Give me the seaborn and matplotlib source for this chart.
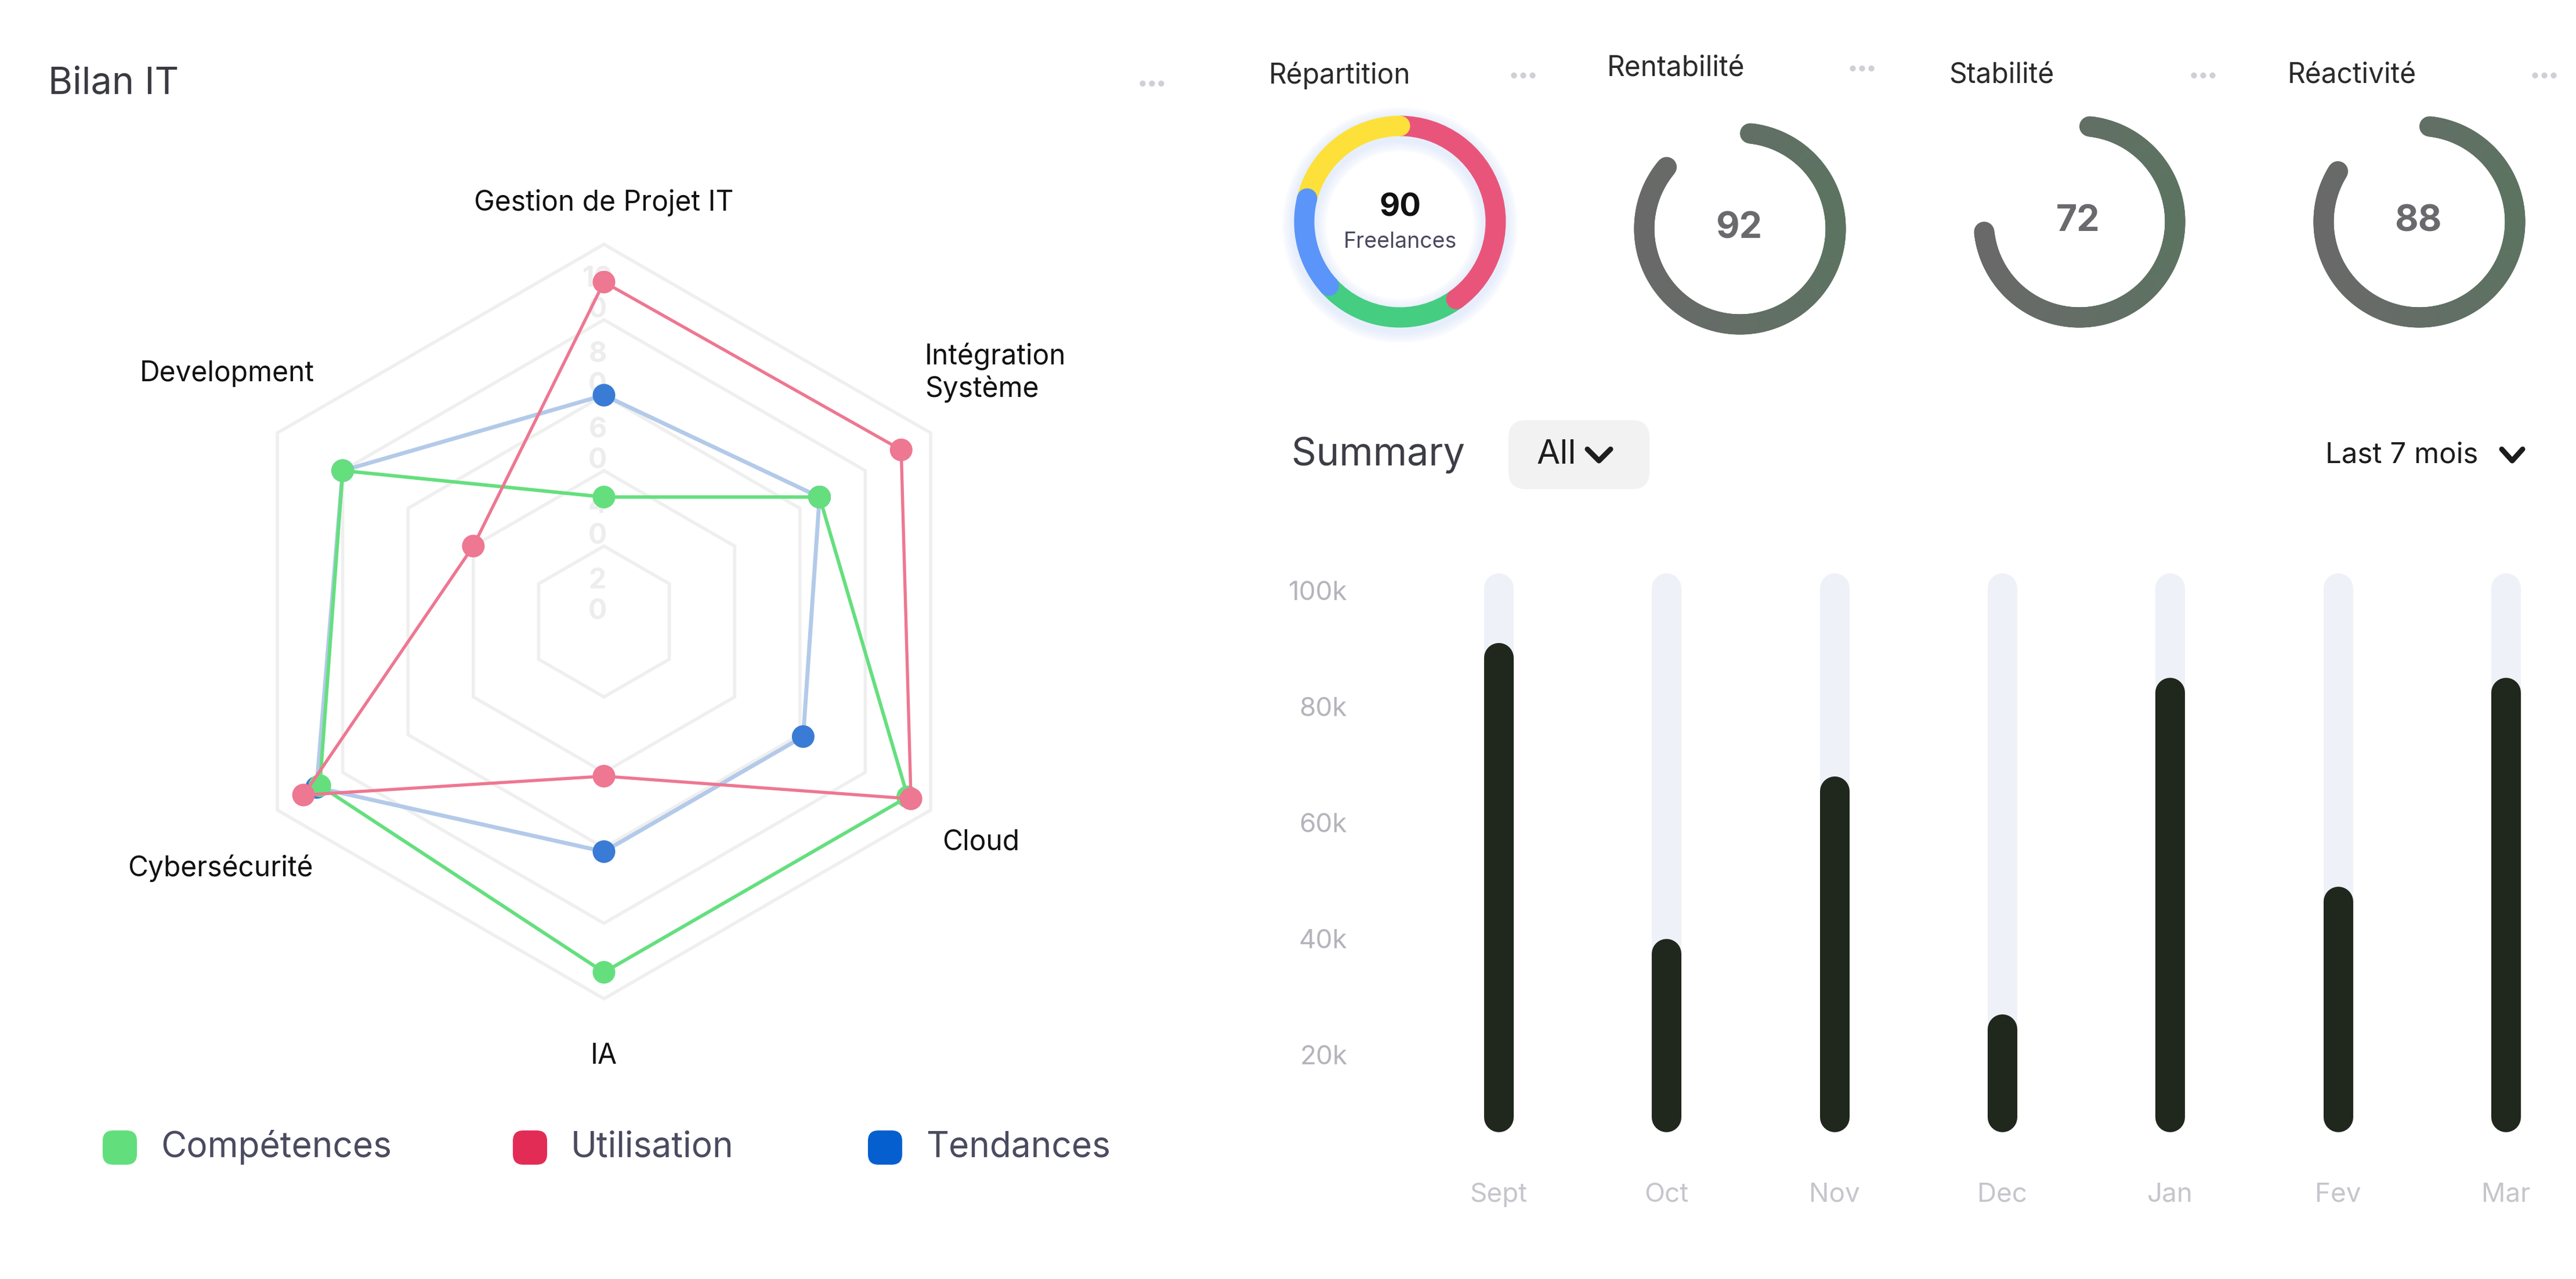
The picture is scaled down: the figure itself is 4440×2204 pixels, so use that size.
import numpy as np
import pandas as pd
import matplotlib
matplotlib.use("Agg")
import matplotlib.pyplot as plt
import seaborn as sns
from matplotlib.patches import FancyBboxPatch, Circle
from matplotlib.collections import LineCollection
from matplotlib.colors import to_rgb

# ---------------- data ----------------
radar_labels = ["Gestion de Projet IT", "Intégration\nSystème", "Cloud", "IA", "Cybersécurité", "Development"]
competences = [33, 66, 93, 93, 87, 80]
utilisation = [90, 91, 94, 41, 92, 40]
tendances = [60, 66, 61, 61, 88, 80]
radar_ticks = [20, 40, 60, 80, 100]
series_names = ["Compétences", "Utilisation", "Tendances"]

repartition = [36, 21, 14, 19]          # rouge, vert, bleu, jaune
repartition_total = 90
gauge_titles = ["Rentabilité", "Stabilité", "Réactivité"]
gauge_values = [92, 72, 88]
gauge_fill = [0.878, 0.75, 0.855]       # part of the ring drawn

months = ["Sept", "Oct", "Nov", "Dec", "Jan", "Fev", "Mar"]
summary = [91000, 40000, 68000, 27000, 85000, 49000, 85000]
summary_max = 100000
y_ticks = [20000, 40000, 60000, 80000, 100000]
y_tick_labels = ["20k", "40k", "60k", "80k", "100k"]

# ---------------- setup ----------------
sns.set_theme(style="white")
plt.rcParams["font.family"] = ["Inter", "DejaVu Sans"]

W, H, DPI = 4440, 2204, 300
PT = 72 / DPI   # points per pixel
fig = plt.figure(figsize=(W / DPI, H / DPI), dpi=DPI)
fig.patch.set_facecolor("white")


def px_axes(x0, y0, x1, y1):
    ax = fig.add_axes([x0 / W, 1 - y1 / H, (x1 - x0) / W, (y1 - y0) / H])
    ax.patch.set_alpha(0)
    return ax


ui = px_axes(0, 0, W, H)
ui.set_xlim(0, W)
ui.set_ylim(H, 0)
ui.axis("off")


def dots(x, y):
    ui.scatter([x + 4.5, x + 20.5, x + 36.5], [y] * 3, s=(9 * PT) ** 2 * 1.3,
               color="#CFCFD5", edgecolors="none", zorder=5)


# ---------------- radar ----------------
ui.text(83, 144, "Bilan IT", fontsize=15.5, color="#3a3a42", va="center", ha="left")
dots(1965, 144)

rad = px_axes(261, 291, 1821, 1851)
rad.set_xlim(-120, 120)
rad.set_ylim(-120, 120)
rad.axis("off")

ang = np.deg2rad(90 - 60 * np.arange(6))
for t in radar_ticks:
    hx = np.append(t * np.cos(ang), t * np.cos(ang[0]))
    hy = np.append(t * np.sin(ang), t * np.sin(ang[0]))
    rad.plot(hx, hy, color="#EFEFEF", lw=5.6 * PT, zorder=1, solid_joinstyle="miter")
    rad.text(-1.7, t - 13.3, f"{t // 10}\n0", fontsize=11.5, fontweight="bold",
             color="#EDEDED", ha="center", va="center", linespacing=1.2, zorder=1)

rows = []
for name, vals in zip(series_names, [competences, utilisation, tendances]):
    for i, (lab, v) in enumerate(zip(radar_labels, vals)):
        rows.append({"series": name, "axis": lab, "order": i, "value": v,
                     "x": v * np.cos(ang[i]), "y": v * np.sin(ang[i])})
radar_df = pd.DataFrame(rows)

styles = {
    "Tendances": dict(line="#B3CAE9", mark="#3A7BD5", lw=7.0, z=2),
    "Compétences": dict(line="#65DF7E", mark="#65DF7E", lw=6.0, z=3),
    "Utilisation": dict(line="#EE7791", mark="#EE7791", lw=5.4, z=4),
}
for name in ["Tendances", "Compétences", "Utilisation"]:
    st = styles[name]
    d = radar_df[radar_df["series"] == name].sort_values("order")
    closed = pd.concat([d, d.iloc[[0]]], ignore_index=True)
    sns.lineplot(data=closed, x="x", y="y", sort=False, estimator=None, color=st["line"],
                 lw=st["lw"] * PT, ax=rad, zorder=st["z"])
    sns.scatterplot(data=d, x="x", y="y", color=st["mark"], s=(39 * PT) ** 2,
                    edgecolor="none", ax=rad, zorder=st["z"] + 0.5, legend=False)
rad.set_xlim(-120, 120)
rad.set_ylim(-120, 120)
rad.axis("off")

label_pos = [(0, 111, "center"), (85.1, 66, "left"), (89.7, -58.6, "left"),
             (0, -115.2, "center"), (-77.1, -65.4, "right"), (-76.8, 65.7, "right")]
for lab, (lx, ly, ha) in zip(radar_labels, label_pos):
    rad.text(lx, ly, lab, fontsize=11.5, color="#111111", ha=ha, va="center", linespacing=1.25)

legend_colors = ["#63DE7C", "#E32C55", "#065FCF"]
legend_x = [177, 884, 1496]
for name, col, lx in zip(series_names, legend_colors, legend_x):
    ui.add_patch(FancyBboxPatch((lx, 1948), 59, 59, boxstyle="round,pad=0,rounding_size=18",
                                fc=col, ec="none"))
    ui.text(lx + 100, 1977, name, fontsize=14.5, color="#4A4A60", va="center", ha="left")

# ---------------- donut ----------------
ui.text(2187, 130, "Répartition", fontsize=11.5, color="#2a2a2a", va="center", ha="left")
dots(2605, 130)
don = px_axes(2413 - 220, 382 - 220, 2413 + 220, 382 + 220)
R, RW = 165, 35
for k in range(1, 6):
    don.add_patch(Circle((0, -6), R, fill=False, lw=(RW + 8 * k) * PT, ec="#D9E4FB",
                         alpha=0.16, zorder=0))
don_colors = ["#E9557A", "#45CD82", "#5B95F9", "#FDE03A"]
don.pie(repartition, colors=don_colors, startangle=90, counterclock=False,
        radius=R + RW / 2, wedgeprops=dict(width=RW, edgecolor="none"))
bounds = 90 - np.cumsum(repartition) / sum(repartition) * 360
caps = [(bounds[0], don_colors[0]), (bounds[1], don_colors[2]),
        (bounds[2], don_colors[2]), (bounds[3], don_colors[3])]
for a, col in caps:
    don.add_patch(Circle((R * np.cos(np.deg2rad(a)), R * np.sin(np.deg2rad(a))), RW / 2,
                         fc=col, ec="none", zorder=5))
don.set_xlim(-220, 220)
don.set_ylim(-220, 220)
don.axis("off")
ui.text(2413, 358, str(repartition_total), fontsize=13, fontweight="bold", color="#111111",
        ha="center", va="center")
ui.text(2413, 417, "Freelances", fontsize=9, color="#4A4A5E", ha="center", va="center")

# ---------------- gauges ----------------
gauge_centers = [(2999, 394), (3584, 382), (4170, 382)]
gauge_title_pos = [(2770, 119), (3359, 130), (3943, 130)]
gauge_dots = [(3189, 118), (3777, 130), (4365, 130)]
c_left, c_right = np.array(to_rgb("#696969")), np.array(to_rgb("#5D7362"))
cap_deg = np.rad2deg(RW / 2 / R)
for title, val, frac, (cx, cy), (tx, ty), (dx, dy) in zip(
        gauge_titles, gauge_values, gauge_fill, gauge_centers, gauge_title_pos, gauge_dots):
    ui.text(tx, ty, title, fontsize=11.5, color="#2a2a2a", va="center", ha="left")
    dots(dx, dy)
    g = px_axes(cx - 220, cy - 220, cx + 220, cy + 220)
    th = np.deg2rad(np.linspace(90 - cap_deg, 90 - frac * 360 + cap_deg, 300))
    px, py = R * np.cos(th), R * np.sin(th)
    pts = np.column_stack([px, py]).reshape(-1, 1, 2)
    segs = np.concatenate([pts[:-1], pts[1:]], axis=1)
    t = ((px[:-1] + px[1:]) / 2 / R + 1) / 2
    cols = c_left[None, :] * (1 - t[:, None]) + c_right[None, :] * t[:, None]
    g.add_collection(LineCollection(segs, colors=cols, linewidths=RW * PT, capstyle="round"))
    g.set_xlim(-220, 220)
    g.set_ylim(-220, 220)
    g.axis("off")
    ui.text(cx - 2, cy, str(val), fontsize=15, fontweight="bold", color="#6A6A6E",
            ha="center", va="center")

# ---------------- summary bars ----------------
ui.text(2226, 784, "Summary", fontsize=16, color="#3D3D45", va="center", ha="left")
ui.add_patch(FancyBboxPatch((2600, 724), 243, 119, boxstyle="round,pad=0,rounding_size=30",
                            fc="#F2F2F2", ec="none"))
ui.text(2649, 784, "All", fontsize=14, color="#1E1E1E", va="center", ha="left")
ui.plot([2736, 2756, 2776], [774, 794, 774], color="#1E1E1E", lw=9 * PT,
        solid_capstyle="round", solid_joinstyle="round")
ui.text(4008, 784, "Last 7 mois", fontsize=11.8, color="#1C1C1C", va="center", ha="left")
ui.plot([4312, 4330, 4348], [774, 794, 774], color="#1C1C1C", lw=9 * PT,
        solid_capstyle="round", solid_joinstyle="round")

bar_top_px, bar_bot_px = 957, 2017.5
bar = px_axes(2330, bar_top_px, 4440, bar_bot_px)
sns.barplot(x=months, y=[summary_max] * len(months), color="#EEF0FA", width=0.176, ax=bar)
sns.barplot(x=months, y=summary, color="#1F2A1B", width=0.176, ax=bar)
bar.set_xlim(-0.8745, 6.418)
bar.set_ylim(0, 106000)

# rounded bars: swap seaborn's rectangles for round-capped strokes
y_per_px = 106000 / (bar_bot_px - bar_top_px)
bar_w_px = 51
cap = bar_w_px / 2 * y_per_px
floor = 6700
patches = list(bar.patches)
for i, p in enumerate(patches):
    xc = p.get_x() + p.get_width() / 2
    top = p.get_height() * (1.03 if i < len(months) else 1.0)
    fc = p.get_facecolor()
    p.remove()
    bar.plot([xc, xc], [floor + cap, top - cap], color=fc, lw=bar_w_px * PT,
             solid_capstyle="round", zorder=2 if i < len(months) else 3)

bar.set_yticks(y_ticks, y_tick_labels)
bar.tick_params(axis="y", length=0, pad=1.9, labelcolor="#B4B4BC", labelsize=11)
bar.tick_params(axis="x", length=0, pad=4.8, labelcolor="#C5C5CC", labelsize=11)
bar.set_xlabel("")
bar.set_ylabel("")
for s in bar.spines.values():
    s.set_visible(False)
bar.grid(False)

fig.savefig("out.png", dpi=DPI, facecolor="white")
